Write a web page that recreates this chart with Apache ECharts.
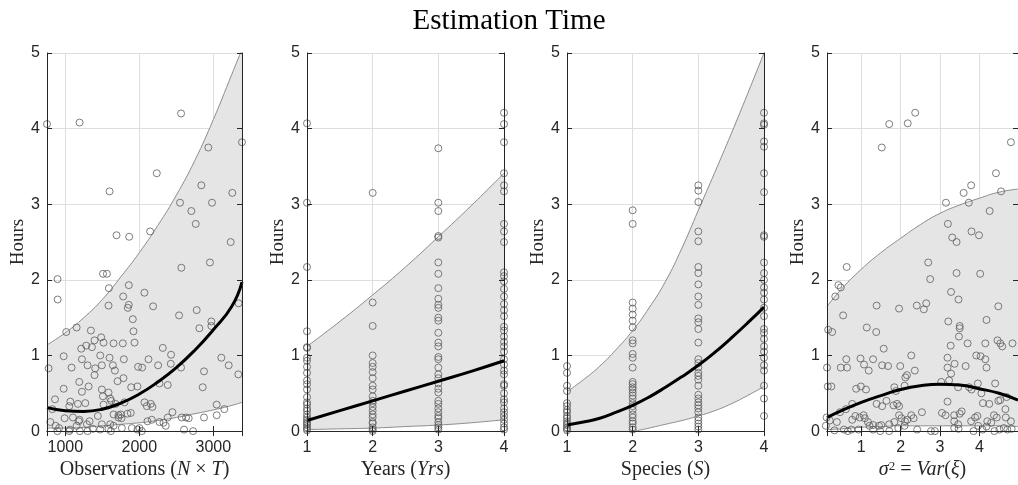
<!DOCTYPE html>
<html>
<head>
<meta charset="utf-8">
<title>Estimation Time</title>
<script src="https://cdn.jsdelivr.net/npm/echarts@6/dist/echarts.min.js"></script>
<style>
  html, body { margin: 0; padding: 0; background: #fff; }
  #main { width: 1018px; height: 485px; }
</style>
</head>
<body>
<div id="main"></div>
<script>
// ---- panel 1 : observations (N x T) ----
var obsPoints = [
  [753,4.06],[1193,4.08],[2564,4.20],[3387,3.82],[2932,3.75],[2236,3.41],[1598,3.17],[2838,3.25],[3256,3.15],
  [2550,3.02],[2982,3.02],[2703,2.91],[2762,2.74],[1692,2.59],[1863,2.57],[2146,2.64],[3234,2.50],
  [2568,2.16],[2954,2.23],[895,2.01],[897,1.74],[1510,2.08],[1562,2.08],[1589,1.89],[1858,1.93],[2069,1.83],
  [1782,1.78],[1858,1.67],[1845,1.63],[1584,1.66],[2186,1.65],[1912,1.48],[1921,1.32],[1935,1.17],[1777,1.16],
  [2537,1.53],[2775,1.60],[3341,1.69],[2973,1.45],[2973,1.39],[2811,1.36],[1013,1.31],[1153,1.37],[1346,1.33],
  [1216,1.09],[1283,1.13],[1360,1.11],[1395,1.20],[1485,1.24],[1517,1.17],[1652,1.16],[2317,1.10],[2429,1.01],
  [978,0.99],[1225,0.95],[1301,0.87],[1472,1.00],[1598,0.97],[1494,0.87],[1404,0.83],[1643,0.87],[1791,0.95],
  [1984,0.85],[2038,0.84],[2124,0.95],[2254,0.87],[2425,0.89],[2564,0.84],[2874,0.79],[3108,0.97],[3207,0.87],
  [3337,0.75],[775,0.83],[1085,0.84],[1395,0.74],[1670,0.80],[1786,0.70],[1706,0.66],[1189,0.65],[1315,0.59],
  [978,0.56],[1890,0.58],[1975,0.59],[2272,0.63],[2384,0.61],[2856,0.58],[1225,0.52],[1494,0.55],[1584,0.51],
  [1508,0.46],[1607,0.43],[861,0.42],[1068,0.39],[1054,0.33],[1171,0.36],[1270,0.37],[1517,0.35],[1620,0.40],
  [1679,0.36],[1800,0.38],[2070,0.38],[2155,0.36],[2101,0.33],[2177,0.32],[825,0.29],[3045,0.35],[3148,0.29],
  [3045,0.21],[2447,0.25],[2384,0.18],[2573,0.18],[2631,0.18],[2667,0.17],[2874,0.18],[798,0.12],[991,0.17],
  [1103,0.18],[1180,0.13],[1193,0.15],[1328,0.13],[1440,0.20],[1652,0.22],[1719,0.21],[1750,0.22],[1719,0.18],
  [1759,0.17],[1840,0.23],[1885,0.24],[2110,0.13],[2168,0.15],[2272,0.12],[2326,0.11],[2357,0.07],[916,0.04],
  [1063,0.02],[1197,0.00],[1373,0.03],[1472,0.02],[1584,0.03],[1607,0.09],[1652,0.07],[1494,0.09],[1764,0.04],
  [1899,0.04],[1975,0.02],[2034,0.00],[2002,0.04],[2604,0.02],[2726,0.00],[1153,0.07],[1292,0.09],[870,0.07],
  [893,0.00],[1301,0.00],[1054,0.00],[1616,0.00]
];
var obsCurveX = [753, 1000, 1250, 1500, 1750, 2000, 2250, 2500, 2750, 3000, 3250, 3387];
var obsUpper  = [1.14, 1.30, 1.50, 1.74, 2.04, 2.36, 2.72, 3.12, 3.58, 4.12, 4.72, 5.05];
var obsLower  = [0.04, 0.04, 0.05, 0.07, 0.09, 0.11, 0.14, 0.18, 0.23, 0.28, 0.34, 0.38];
var obsMean   = [0.31, 0.27, 0.26, 0.29, 0.37, 0.49, 0.65, 0.84, 1.07, 1.34, 1.65, 1.97];

// ---- panel 2 : years ----
var yrsHours1 = [4.07,3.02,2.17,1.32,1.11,1.10,0.97,0.93,0.85,0.77,0.67,0.62,0.55,0.45,0.38,0.35,0.30,0.27,0.22,0.18,0.15,0.12,0.10,0.08,0.05,0.03,0.01];
var yrsHours2 = [3.15,1.70,1.39,1.00,0.90,0.85,0.78,0.70,0.60,0.55,0.46,0.40,0.37,0.32,0.27,0.22,0.18,0.12,0.10,0.05,0.02,0.00];
var yrsHours3 = [3.74,3.02,2.91,2.58,2.56,2.23,2.08,1.89,1.75,1.67,1.63,1.50,1.46,1.30,1.17,1.12,0.98,0.95,0.84,0.75,0.70,0.63,0.56,0.51,0.40,0.36,0.30,0.25,0.20,0.17,0.12,0.08,0.05,0.02];
var yrsHours4 = [4.21,4.06,3.82,3.41,3.25,3.17,2.74,2.64,2.50,2.10,2.05,1.98,1.88,1.78,1.68,1.60,1.52,1.38,1.33,1.25,1.18,1.12,1.05,0.95,0.88,0.80,0.75,0.62,0.60,0.50,0.42,0.38,0.30,0.25,0.20,0.15,0.10,0.05,0.02];
var yrsCurveX = [1, 1.5, 2, 2.5, 3, 3.5, 4];
var yrsUpper  = [1.12, 1.45, 1.80, 2.17, 2.57, 2.98, 3.41];
var yrsLower  = [0.02, 0.03, 0.04, 0.06, 0.08, 0.11, 0.15];
var yrsMean   = [0.14, 0.27, 0.40, 0.53, 0.66, 0.79, 0.93];

// ---- panel 3 : species ----
var spHours1 = [0.86,0.77,0.60,0.53,0.37,0.33,0.28,0.25,0.20,0.17,0.13,0.10,0.08,0.05,0.03,0.01];
var spHours2 = [2.92,2.74,1.70,1.62,1.54,1.46,1.37,1.20,1.16,1.02,0.97,0.84,0.65,0.62,0.58,0.55,0.51,0.47,0.43,0.37,0.33,0.28,0.22,0.18,0.13,0.10,0.05,0.02];
var spHours3 = [3.25,3.18,3.03,2.64,2.51,2.17,2.09,1.94,1.78,1.67,1.49,1.44,1.35,1.17,0.95,0.90,0.84,0.77,0.73,0.68,0.60,0.48,0.43,0.38,0.34,0.30,0.25,0.18,0.14,0.10,0.06,0.02];
var spHours4 = [4.21,4.07,4.05,3.83,3.76,3.41,3.16,2.59,2.57,2.23,2.09,2.00,1.90,1.83,1.74,1.63,1.52,1.35,1.30,1.22,1.12,1.05,0.97,0.87,0.80,0.60,0.43,0.20];
var spCurveX = [1, 1.25, 1.5, 1.75, 2, 2.25, 2.5, 2.75, 3, 3.25, 3.5, 3.75, 4];
var spUpper  = [0.52, 0.68, 0.86, 1.08, 1.33, 1.63, 1.98, 2.42, 2.92, 3.42, 3.93, 4.46, 5.00];
var spLower  = [-0.30, -0.22, -0.14, -0.07, -0.01, 0.04, 0.09, 0.14, 0.20, 0.27, 0.36, 0.47, 0.59];
var spMean   = [0.08, 0.12, 0.17, 0.25, 0.34, 0.45, 0.58, 0.72, 0.87, 1.04, 1.23, 1.43, 1.64];

// ---- panel 4 : sigma^2 = Var(xi) ----
var varPoints = [
  [1.52,3.75],[1.71,4.06],[2.18,4.07],[2.37,4.21],[4.80,3.82],[4.42,3.41],[4.55,3.17],[3.79,3.25],[3.60,3.15],
  [3.73,3.02],[3.15,3.02],[4.26,2.91],[3.20,2.74],[3.31,2.56],[3.42,2.50],[3.80,2.64],[3.99,2.59],
  [0.63,2.17],[0.42,1.93],[0.48,1.90],[0.34,1.78],[0.54,1.53],[2.70,2.23],[2.75,2.01],[3.42,2.09],[4.02,2.08],
  [3.28,1.84],[3.47,1.74],[1.39,1.66],[1.96,1.62],[2.41,1.66],[2.59,1.61],[2.65,1.69],[4.48,1.65],
  [0.16,1.34],[0.26,1.31],[1.14,1.37],[1.38,1.31],[3.21,1.45],[3.50,1.39],[3.50,1.36],[4.18,1.47],
  [1.57,1.09],[2.27,1.00],[3.27,1.13],[3.48,1.25],[3.70,1.16],[4.15,1.16],[4.46,1.20],[4.53,1.16],[4.58,1.12],[4.84,1.16],
  [0.13,0.84],[0.48,0.84],[0.64,0.84],[0.62,0.95],[0.98,0.96],[1.07,0.88],[1.19,0.80],[1.30,0.95],[1.53,0.87],
  [1.68,0.86],[1.99,0.86],[2.12,0.71],[2.16,0.74],[2.36,0.80],[3.19,0.97],[3.19,0.84],[3.28,0.76],[3.37,0.89],
  [3.65,0.86],[3.92,1.00],[4.03,0.99],[4.15,0.95],[4.18,0.84],[3.96,0.63],[3.80,0.55],[3.74,0.58],[4.40,0.63],
  [0.15,0.59],[0.24,0.59],[0.87,0.56],[0.99,0.59],[1.12,0.55],[1.84,0.58],[1.88,0.53],[2.10,0.60],[3.03,0.65],
  [3.23,0.67],[3.46,0.58],[4.05,0.50],[4.09,0.37],[4.25,0.36],[4.48,0.40],[4.53,0.41],[4.66,0.29],[4.69,0.45],
  [0.77,0.36],[0.61,0.29],[0.46,0.25],[1.39,0.36],[1.53,0.33],[1.64,0.40],[1.82,0.34],[1.91,0.36],[1.96,0.33],
  [3.19,0.39],[0.12,0.18],[0.20,0.14],[0.38,0.12],[0.77,0.15],[0.85,0.20],[0.96,0.18],[1.06,0.21],[1.09,0.17],
  [1.17,0.12],[1.30,0.08],[1.45,0.07],[1.51,0.08],[1.71,0.09],[1.84,0.12],[1.96,0.21],[2.02,0.17],[2.11,0.13],
  [2.17,0.15],[2.27,0.21],[2.33,0.17],[2.54,0.25],[3.05,0.24],[3.14,0.21],[3.36,0.21],[3.50,0.23],[3.55,0.26],
  [3.36,0.13],[3.46,0.09],[3.79,0.13],[3.89,0.18],[3.95,0.20],[4.20,0.13],[4.30,0.11],[4.37,0.21],[4.44,0.18],
  [4.67,0.18],[4.80,0.13],[0.10,0.07],[0.32,0.01],[0.56,0.02],[0.66,0.00],[0.75,0.02],[0.93,0.02],[1.21,0.07],
  [1.30,0.02],[1.48,0.00],[1.71,0.00],[1.94,0.04],[2.10,0.07],[2.42,0.02],[2.77,0.00],[2.87,0.00],[3.36,0.04],
  [3.47,0.03],[3.85,0.00],[3.97,0.07],[4.08,0.02],[4.18,0.06],[4.38,0.00],[4.51,0.02],[4.62,0.04],[4.71,0.02],[4.82,0.03]
];
var varCurveX = [0.13, 0.5, 1, 1.5, 2, 2.5, 3, 3.5, 4, 4.5, 4.98];
var varUpper  = [1.65, 1.88, 2.14, 2.36, 2.55, 2.73, 2.88, 2.99, 3.08, 3.16, 3.20];
var varLower  = [0.02, 0.03, 0.05, 0.06, 0.07, 0.07, 0.07, 0.07, 0.07, 0.07, 0.06];
var varMean   = [0.18, 0.27, 0.38, 0.47, 0.55, 0.60, 0.62, 0.61, 0.56, 0.50, 0.41];

var hoursTicks = [0, 5, 1];   // min, max, interval

// helpers
function columns(cols) {
  var out = [];
  cols.forEach(function (vals, k) {
    vals.forEach(function (v) { out.push([k + 1, v]); });
  });
  return out;
}
function zip(xs, ys) {
  return xs.map(function (x, k) { return [x, ys[k]]; });
}

var axisColor = '#262626';
var serif = 'Liberation Serif';
var sans = 'Liberation Sans';
var nameRich = {
  rm:  { fontFamily: serif, fontSize: 20, color: axisColor },
  it:  { fontFamily: serif, fontSize: 20, color: axisColor, fontStyle: 'italic' },
  sup: { fontFamily: serif, fontSize: 13, color: axisColor, verticalAlign: 'top', padding: [0, 0, 6, 0] }
};

var panels = [
  { left: 47,  width: 195, min: 753,  max: 3387, splitNumber: 3, edgeLabels: false,
    name: '{rm|Observations (}{it|N}{rm| × }{it|T}{rm|)}',
    points: obsPoints, cx: obsCurveX, up: obsUpper, lo: obsLower, mean: obsMean },
  { left: 307, width: 197, min: 1, max: 4, interval: 1, edgeLabels: true,
    name: '{rm|Years (}{it|Yrs}{rm|)}',
    points: columns([yrsHours1, yrsHours2, yrsHours3, yrsHours4]), cx: yrsCurveX, up: yrsUpper, lo: yrsLower, mean: yrsMean },
  { left: 567, width: 197, min: 1, max: 4, interval: 1, edgeLabels: true,
    name: '{rm|Species (}{it|S}{rm|)}',
    points: columns([spHours1, spHours2, spHours3, spHours4]), cx: spCurveX, up: spUpper, lo: spLower, mean: spMean },
  { left: 827, width: 197, min: 0.13, max: 4.98, splitNumber: 5, edgeLabels: false,
    name: '{it|σ}{sup|2}{rm| = }{it|Var}{rm|(}{it|ξ}{rm|)}',
    points: varPoints, cx: varCurveX, up: varUpper, lo: varLower, mean: varMean }
];

var grids = [], xAxes = [], yAxes = [], series = [];

panels.forEach(function (p, i) {
  grids.push({ left: p.left, top: 53, width: p.width, height: 379 });

  var xBase = { gridIndex: i, type: 'value', min: p.min, max: p.max };
  if (p.interval) xBase.interval = p.interval; else xBase.splitNumber = p.splitNumber;
  var yBase = { gridIndex: i, type: 'value', min: hoursTicks[0], max: hoursTicks[1], interval: hoursTicks[2] };
  var tick = { show: true, inside: true, length: 5, lineStyle: { color: axisColor } };
  var line = { show: true, lineStyle: { color: axisColor, width: 1 } };

  // bottom x axis (labels + name)
  xAxes.push(Object.assign({}, xBase, {
    position: 'bottom', z: 10,
    axisLine: line, axisTick: tick, splitLine: { show: false },
    axisLabel: { color: axisColor, fontFamily: sans, fontSize: 16, margin: 8,
                 showMinLabel: p.edgeLabels, showMaxLabel: p.edgeLabels,
                 formatter: function (v) { return String(v); } },
    name: p.name, nameLocation: 'middle', nameGap: 27,
    nameTextStyle: { rich: nameRich }
  }));
  // top x axis (box + mirrored ticks)
  xAxes.push(Object.assign({}, xBase, {
    position: 'top', z: 10,
    axisLine: line, axisTick: tick, axisLabel: { show: false }, splitLine: { show: false }
  }));
  // grid lines only
  xAxes.push(Object.assign({}, xBase, {
    position: 'bottom', z: 0,
    axisLine: { show: false }, axisTick: { show: false }, axisLabel: { show: false },
    splitLine: { show: true, lineStyle: { color: '#dedede', width: 1 } }
  }));

  yAxes.push(Object.assign({}, yBase, {
    position: 'left', z: 10,
    axisLine: line, axisTick: tick, splitLine: { show: false },
    axisLabel: { color: axisColor, fontFamily: sans, fontSize: 16, margin: 7 },
    name: 'Hours', nameLocation: 'middle', nameGap: 18, nameRotate: 90,
    nameTextStyle: { fontFamily: serif, fontSize: 19, color: axisColor }
  }));
  yAxes.push(Object.assign({}, yBase, {
    position: 'right', z: 10,
    axisLine: line, axisTick: tick, axisLabel: { show: false }, splitLine: { show: false }
  }));
  yAxes.push(Object.assign({}, yBase, {
    position: 'left', z: 0,
    axisLine: { show: false }, axisTick: { show: false }, axisLabel: { show: false },
    splitLine: { show: true, lineStyle: { color: '#dedede', width: 1 } }
  }));

  var ax = { xAxisIndex: 3 * i, yAxisIndex: 3 * i };
  var edge = { color: '#8c8c8c', width: 1 };

  // prediction band: grey down from the upper edge, white below the lower edge
  series.push(Object.assign({
    type: 'line', data: zip(p.cx, p.up), smooth: true, symbol: 'none',
    lineStyle: edge, silent: true, z: 1, z2: 1,
    areaStyle: { color: '#e5e5e5', opacity: 1, origin: 'start' }
  }, ax));
  series.push(Object.assign({
    type: 'line', data: zip(p.cx, p.lo), smooth: true, symbol: 'none',
    lineStyle: edge, silent: true, z: 1, z2: 2,
    areaStyle: { color: '#ffffff', opacity: 1, origin: 'start' }
  }, ax));
  // observations
  series.push(Object.assign({
    type: 'scatter', data: p.points, symbol: 'circle', symbolSize: 7, clip: false, z: 2,
    itemStyle: { color: 'rgba(0,0,0,0)', borderColor: '#5e5e5e', borderWidth: 1 }
  }, ax));
  // fitted mean
  series.push(Object.assign({
    type: 'line', data: zip(p.cx, p.mean), smooth: true, symbol: 'none', z: 3,
    lineStyle: { color: '#000', width: 3 }
  }, ax));
});

var chart = echarts.init(document.getElementById('main'));
chart.setOption({
  animation: false,
  backgroundColor: '#fff',
  title: {
    text: 'Estimation Time', left: 'center', top: 2,
    textStyle: { fontFamily: serif, fontSize: 29, fontWeight: 'normal', color: '#000' }
  },
  grid: grids,
  xAxis: xAxes,
  yAxis: yAxes,
  series: series
});
</script>
</body>
</html>
